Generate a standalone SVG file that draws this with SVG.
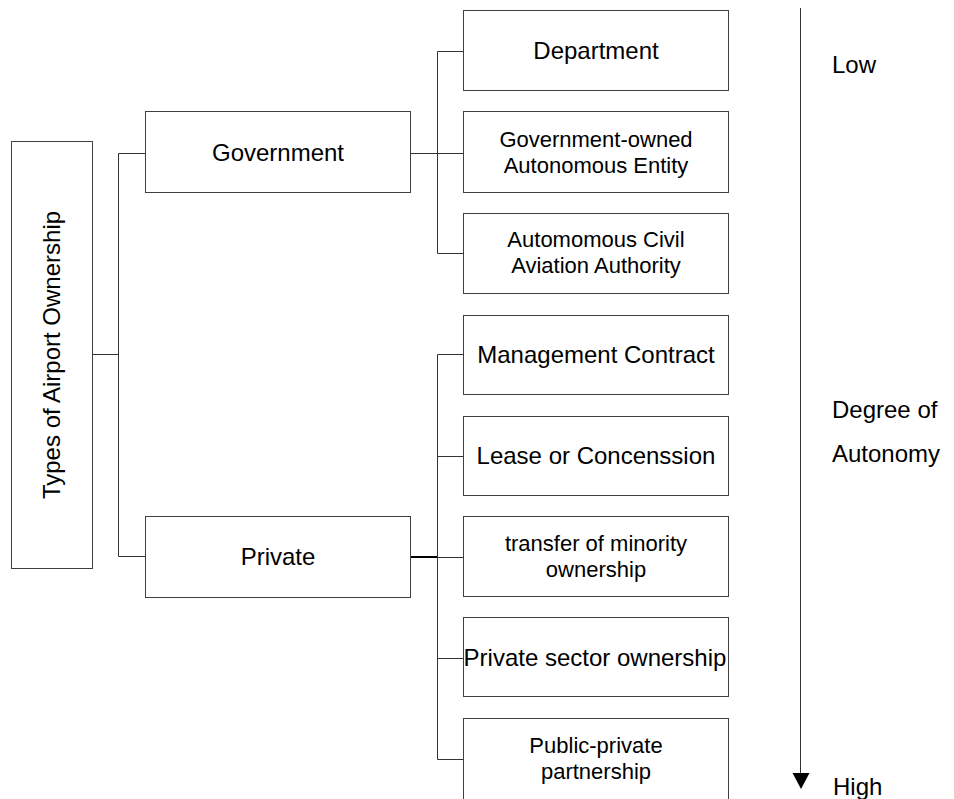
<svg xmlns="http://www.w3.org/2000/svg" width="954" height="799" viewBox="0 0 954 799">
  <style>
    .box { fill: #ffffff; stroke: #404040; stroke-width: 1; }
    .lbl { font-family: "Liberation Sans", Arial, sans-serif; font-size: 24px; fill: #000000; text-anchor: middle; }
    .lbl2 { font-family: "Liberation Sans", Arial, sans-serif; font-size: 22px; fill: #000000; text-anchor: middle; }
    .side { font-family: "Liberation Sans", Arial, sans-serif; font-size: 24px; fill: #000000; }
    .wire { stroke: #333333; stroke-width: 1; fill: none; }
    .wire-bold { stroke: #000000; stroke-width: 2; fill: none; }
  </style>
  <rect x="0" y="0" width="954" height="799" fill="#ffffff"/>

  <!-- tree connectors -->
  <g id="connectors">
    <path class="wire" d="M92,354.5 H118.5 M118.5,153.5 V556.5 M118.5,153.5 H145 M118.5,556.5 H145"/>
    <path class="wire" d="M410,153.5 H463 M437.5,51.5 V253.5 M437.5,51.5 H463 M437.5,253.5 H463"/>
    <path class="wire-bold" d="M410,557 H437.5"/>
    <path class="wire" d="M437.5,354.5 V759.5 M437.5,354.5 H463 M437.5,456.5 H463 M437.5,557.5 H463 M437.5,658.5 H463 M437.5,759.5 H463"/>
  </g>

  <!-- root -->
  <g id="root">
    <rect class="box" x="11.5" y="141.5" width="81" height="427"/>
    <text class="lbl" transform="translate(60,355) rotate(-90)">Types of Airport Ownership</text>
  </g>

  <!-- second level -->
  <g id="government">
    <rect class="box" x="145.5" y="111.5" width="265" height="81"/>
    <text class="lbl" x="278" y="161">Government</text>
  </g>
  <g id="private">
    <rect class="box" x="145.5" y="516.5" width="265" height="81"/>
    <text class="lbl" x="278" y="565">Private</text>
  </g>

  <!-- government forms -->
  <g id="department">
    <rect class="box" x="463.5" y="10.5" width="265" height="80"/>
    <text class="lbl" x="596" y="59">Department</text>
  </g>
  <g id="gov-owned-entity">
    <rect class="box" x="463.5" y="111.5" width="265" height="81"/>
    <text class="lbl2" x="596" y="147">Government-owned<tspan x="596" dy="25.5">Autonomous Entity</tspan></text>
  </g>
  <g id="civil-aviation-authority">
    <rect class="box" x="463.5" y="213.5" width="265" height="80"/>
    <text class="lbl2" x="596" y="247">Automomous Civil<tspan x="596" dy="25.5">Aviation Authority</tspan></text>
  </g>

  <!-- private forms -->
  <g id="management-contract">
    <rect class="box" x="463.5" y="315.5" width="265" height="79"/>
    <text class="lbl" x="596" y="363">Management Contract</text>
  </g>
  <g id="lease-concession">
    <rect class="box" x="463.5" y="416.5" width="265" height="79"/>
    <text class="lbl" x="596" y="464">Lease or Concenssion</text>
  </g>
  <g id="minority-transfer">
    <rect class="box" x="463.5" y="516.5" width="265" height="80"/>
    <text class="lbl2" x="596" y="551">transfer of minority<tspan x="596" dy="25.5">ownership</tspan></text>
  </g>
  <g id="private-sector">
    <rect class="box" x="463.5" y="617.5" width="265" height="79"/>
    <text class="lbl" x="595" y="666">Private sector ownership</text>
  </g>
  <g id="public-private">
    <rect class="box" x="463.5" y="718.5" width="265" height="82"/>
    <text class="lbl2" x="596" y="753">Public-private<tspan x="596" dy="25.5">partnership</tspan></text>
  </g>

  <!-- autonomy scale -->
  <g id="autonomy-scale">
    <line x1="800.5" y1="8" x2="800.5" y2="775" stroke="#333333" stroke-width="1"/>
    <polygon points="792.5,773 809.5,773 801,789" fill="#000000"/>
    <text class="side" x="832" y="73">Low</text>
    <text class="side" x="832" y="418">Degree of</text>
    <text class="side" x="832" y="462">Autonomy</text>
    <text class="side" x="833" y="795">High</text>
  </g>
</svg>
